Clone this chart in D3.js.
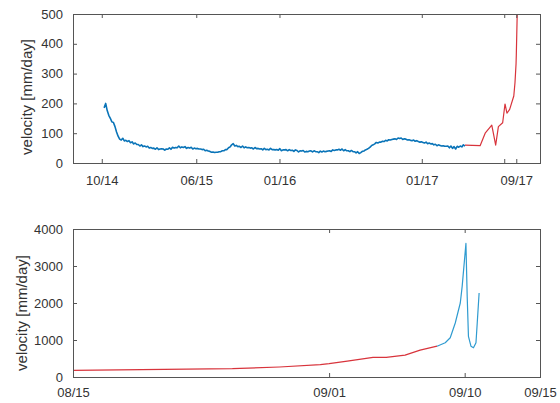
<!DOCTYPE html>
<html>
<head>
<meta charset="utf-8">
<script src="https://cdn.jsdelivr.net/npm/d3@7"></script>
<style>
  body { margin: 0; background: #fff; }
  svg { font-family: "Liberation Sans", Arial, Helvetica, sans-serif; }
</style>
</head>
<body>
<script>
// daily creep velocity, sampled every 4 days from 2014-10-07 (mm/day)
const creepStart = "2014-10-07";
const creepStep = 4;
const creepValues = [
  185, 200, 176, 160, 150, 138, 136, 122, 104, 90,
  80, 77, 83, 74, 76, 72, 75, 68, 71, 64,
  67, 62, 62, 57, 61, 55, 57, 54, 56, 50,
  52, 49, 50, 46, 51, 45, 47, 48, 47, 43,
  47, 46, 51, 46, 53, 50, 52, 51, 57, 51,
  54, 52, 55, 49, 52, 50, 53, 47, 50, 48,
  49, 47, 47, 45, 46, 41, 43, 40, 39, 36,
  37, 35, 36, 36, 38, 38, 41, 41, 45, 45,
  51, 54, 61, 65, 57, 59, 55, 56, 52, 57,
  51, 54, 51, 52, 50, 51, 47, 52, 48, 49,
  47, 48, 44, 49, 45, 46, 44, 49, 45, 45,
  44, 45, 43, 48, 41, 44, 44, 45, 41, 45,
  42, 43, 39, 44, 42, 37, 41, 40, 42, 37,
  39, 38, 40, 41, 37, 41, 38, 38, 35, 40,
  37, 40, 38, 39, 40, 41, 39, 44, 42, 44,
  44, 46, 43, 47, 41, 45, 41, 41, 38, 42,
  38, 38, 34, 38, 32, 35, 39, 40, 44, 46,
  49, 53, 59, 61, 64, 69, 67, 70, 70, 73,
  72, 76, 74, 78, 77, 79, 80, 81, 79, 84,
  82, 84, 79, 81, 80, 77, 78, 76, 75, 77,
  73, 75, 72, 70, 71, 69, 67, 70, 65, 67,
  64, 65, 61, 63, 58, 61, 59, 57, 58, 56,
  56, 57, 51, 57, 49, 55, 47, 56, 53, 57,
  54, 61, 57
];

// manual measurements before failure
const manualDates = [
  "2017-04-22 00:00", "2017-05-31 00:00", "2017-06-13 00:00", "2017-06-30 00:00",
  "2017-07-10 00:00", "2017-07-17 00:00", "2017-07-28 00:00", "2017-08-03 00:00",
  "2017-08-08 00:00", "2017-08-15 00:00", "2017-08-25 14:00", "2017-08-28 17:00",
  "2017-08-31 10:00", "2017-09-01 00:00", "2017-09-02 05:00", "2017-09-03 22:00",
  "2017-09-04 19:00", "2017-09-06 01:00", "2017-09-07 01:00", "2017-09-08 04:00"
];
const manualValues = [60, 58, 100, 127, 60, 122, 135, 198, 167, 180, 225, 270, 333, 360, 430, 530, 530, 590, 725, 833];

// high rate measurements around failure
const fastDates = [
  "2017-09-08 04:00", "2017-09-08 17:00", "2017-09-09 01:00", "2017-09-09 09:00",
  "2017-09-09 17:00", "2017-09-09 20:00", "2017-09-10 02:00", "2017-09-10 04:00",
  "2017-09-10 06:00", "2017-09-10 10:00", "2017-09-10 14:00", "2017-09-10 18:00",
  "2017-09-10 20:00", "2017-09-10 23:00"
];
const fastValues = [833, 925, 1060, 1460, 2000, 2450, 3610, 2180, 1100, 833, 790, 925, 1460, 2270];

const topTicks = ["2014-10-01", "2015-06-01", "2016-01-01", "2017-01-01", "2017-08-01", "2017-09-01"];
const topTickLabels = ["10/14", "06/15", "01/16", "01/17", "", "09/17"];
const topYTicks = [0, 100, 200, 300, 400, 500];
const bottomTicks = ["2017-08-15", "2017-09-01", "2017-09-10", "2017-09-15"];
const bottomTickLabels = ["08/15", "09/01", "09/10", "09/15"];
const bottomYTicks = [0, 1000, 2000, 3000, 4000];

const parseDay = d3.timeParse("%Y-%m-%d");
const parseTime = d3.timeParse("%Y-%m-%d %H:%M");

const creep = creepValues.map((v, i) => ({ t: d3.timeDay.offset(parseDay(creepStart), i * creepStep), v }));
const manual = manualDates.map((d, i) => ({ t: parseTime(d), v: manualValues[i] }));
const fast = fastDates.map((d, i) => ({ t: parseTime(d), v: fastValues[i] }));

const width = 560, height = 403;
const left = 73, right = 540;
const frameColor = "#555";
const textColor = "#333";
const blue = "#0a74b8";
const red = "#d8343c";
const lightBlue = "#2f9bd0";

const svg = d3.select("body").append("svg")
  .attr("width", width)
  .attr("height", height);

function panel(opts) {
  const x = d3.scaleTime().domain(opts.xDomain).range([left, right]);
  const y = d3.scaleLinear().domain(opts.yDomain).range([opts.bottom, opts.top]);
  const g = svg.append("g");

  g.append("clipPath").attr("id", opts.id)
    .append("rect")
    .attr("x", left).attr("y", opts.top)
    .attr("width", right - left).attr("height", opts.bottom - opts.top);

  const line = d3.line().x(d => x(d.t)).y(d => y(d.v));
  opts.series.forEach(s => {
    g.append("path")
      .attr("clip-path", `url(#${opts.id})`)
      .attr("d", line(s.data))
      .attr("fill", "none")
      .attr("stroke", s.color)
      .attr("stroke-width", s.width)
      .attr("stroke-linejoin", "round");
  });

  const xTicks = opts.xTicks.map(parseDay);
  const fmt = (d, i) => opts.xLabels[i];

  const xb = g.append("g").attr("transform", `translate(0,${opts.bottom})`)
    .call(d3.axisBottom(x).tickValues(xTicks).tickFormat(fmt).tickSize(-4).tickSizeOuter(0).tickPadding(opts.xPad));
  const xt = g.append("g").attr("transform", `translate(0,${opts.top})`)
    .call(d3.axisTop(x).tickValues(xTicks).tickFormat("").tickSize(-4).tickSizeOuter(0));
  const yl = g.append("g").attr("transform", `translate(${left},0)`)
    .call(d3.axisLeft(y).tickValues(opts.yTicks).tickFormat(d3.format("d")).tickSize(-4).tickSizeOuter(0).tickPadding(10));
  const yr = g.append("g").attr("transform", `translate(${right},0)`)
    .call(d3.axisRight(y).tickValues(opts.yTicks).tickFormat("").tickSize(-4).tickSizeOuter(0));

  [xb, xt, yl, yr].forEach(a => {
    a.select(".domain").remove();
    a.selectAll(".tick line").attr("stroke", frameColor);
    a.selectAll(".tick text")
      .attr("fill", textColor)
      .style("font-size", "13px")
      .style("font-family", "'Liberation Sans', Arial, Helvetica, sans-serif");
  });

  g.append("rect")
    .attr("x", left + 0.5).attr("y", opts.top + 0.5)
    .attr("width", right - left).attr("height", opts.bottom - opts.top)
    .attr("fill", "none")
    .attr("stroke", frameColor)
    .attr("stroke-width", 1);

  g.append("text")
    .attr("transform", `translate(${opts.labelX},${opts.labelY}) rotate(-90)`)
    .attr("text-anchor", "middle")
    .attr("fill", textColor)
    .style("font-size", "15px")
    .text("velocity [mm/day]");
}

panel({
  id: "clipTop",
  top: 14, bottom: 163,
  xDomain: [parseDay("2014-07-19"), parseDay("2017-11-01")],
  yDomain: [0, 500],
  xTicks: topTicks, xLabels: topTickLabels, xPad: 13,
  yTicks: topYTicks,
  labelX: 32, labelY: 97,
  series: [
    { data: creep, color: blue, width: 1.6 },
    { data: manual, color: red, width: 1.2 }
  ]
});

panel({
  id: "clipBottom",
  top: 229, bottom: 377,
  xDomain: [parseDay("2017-08-15"), parseDay("2017-09-15")],
  yDomain: [0, 4000],
  xTicks: bottomTicks, xLabels: bottomTickLabels, xPad: 11,
  yTicks: bottomYTicks,
  labelX: 27, labelY: 313,
  series: [
    { data: manual, color: red, width: 1.2 },
    { data: fast, color: lightBlue, width: 1.2 }
  ]
});
</script>
</body>
</html>
